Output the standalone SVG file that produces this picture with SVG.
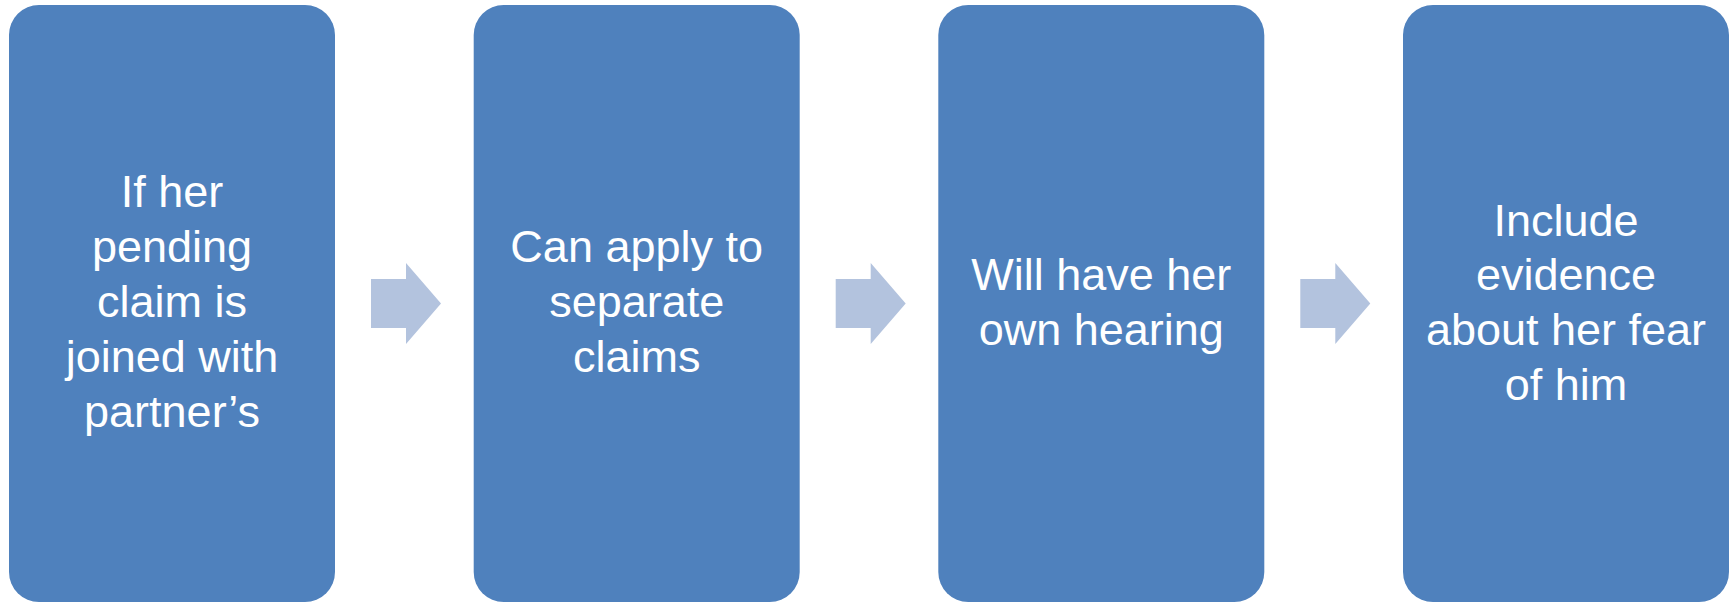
<svg xmlns="http://www.w3.org/2000/svg" width="1736" height="603" viewBox="0 0 1736 603">
  <style>
    .box { fill: #4F81BD; }
    .arrow { fill: #B3C3DE; }
    .label { font-family: "Liberation Sans", Arial, sans-serif; font-size: 45px; fill: #FFFFFF; text-anchor: middle; }
  </style>
  <defs>
    <path id="chevron" d="M0,16 H35 V0 L70,40.5 L35,81 V65 H0 Z"/>
  </defs>
  <rect width="1736" height="603" fill="#FFFFFF"/>

  <g id="connectors">
    <use href="#chevron" class="arrow" x="371" y="263"/>
    <use href="#chevron" class="arrow" x="835.7" y="263"/>
    <use href="#chevron" class="arrow" x="1300.3" y="263"/>
  </g>

  <g id="step1">
    <rect class="box" x="9" y="5" width="326" height="597" rx="30" ry="30"/>
    <text class="label" x="172" y="206.5">If her</text>
    <text class="label" x="172" y="261.5">pending</text>
    <text class="label" x="172" y="316.5">claim is</text>
    <text class="label" x="172" y="371.5">joined with</text>
    <text class="label" x="172" y="427">partner’s</text>
  </g>

  <g id="step2">
    <rect class="box" x="473.7" y="5" width="326" height="597" rx="30" ry="30"/>
    <text class="label" x="636.7" y="261.5">Can apply to</text>
    <text class="label" x="636.7" y="316.5">separate</text>
    <text class="label" x="636.7" y="372">claims</text>
  </g>

  <g id="step3">
    <rect class="box" x="938.3" y="5" width="326" height="597" rx="30" ry="30"/>
    <text class="label" x="1101.3" y="289.5">Will have her</text>
    <text class="label" x="1101.3" y="344.5">own hearing</text>
  </g>

  <g id="step4">
    <rect class="box" x="1403" y="5" width="326" height="597" rx="30" ry="30"/>
    <text class="label" x="1566" y="235.5">Include</text>
    <text class="label" x="1566" y="290">evidence</text>
    <text class="label" x="1566" y="344.5">about her fear</text>
    <text class="label" x="1566" y="399.5">of him</text>
  </g>
</svg>
